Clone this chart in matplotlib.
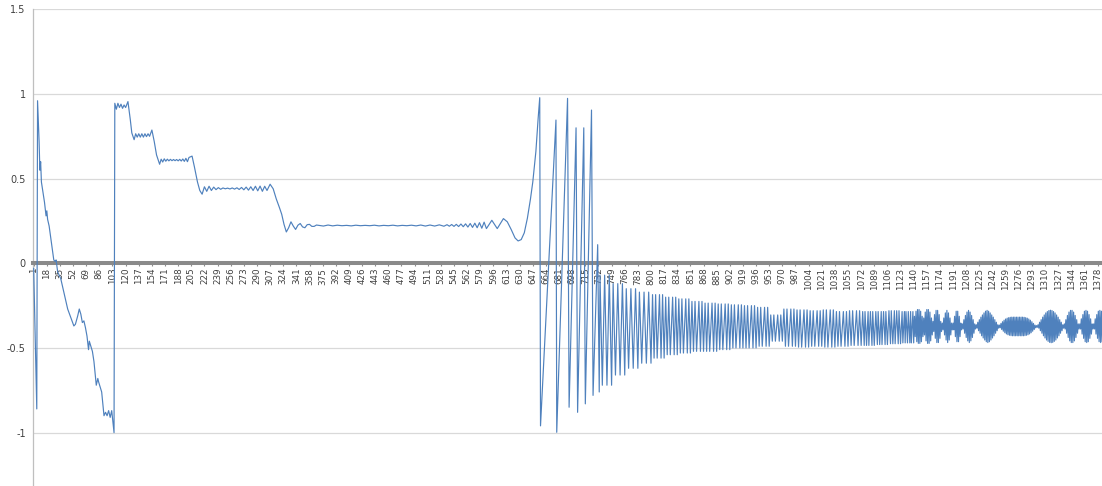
import numpy as np
import matplotlib
matplotlib.use('Agg')
import matplotlib.pyplot as plt

# ---------------------------- data ---------------------------- #
N = 1386
tick_cats = list(range(1, 1379, 17))

# opening swing and slide down to -1
seg_a_i = [1, 5, 6, 8, 9, 10, 11, 13, 15, 16, 17, 18, 19, 21, 24, 27, 29, 30, 32, 36,
           40, 45, 49, 53, 55, 58, 60, 62, 64, 66, 68, 70, 72, 73, 75, 77, 79, 82, 84, 85,
           87, 89, 92, 94, 96, 98, 100, 102, 105, 106]
seg_a_v = [-0.03, -0.86, 0.96, 0.72, 0.55, 0.60, 0.48, 0.42, 0.36, 0.32,
           0.28, 0.31, 0.26, 0.22, 0.12, 0.02, 0.01, 0.02, -0.05, -0.09,
           -0.17, -0.27, -0.32, -0.37, -0.36, -0.31, -0.27, -0.30, -0.35, -0.34,
           -0.38, -0.43, -0.51, -0.46, -0.49, -0.52, -0.58, -0.72, -0.68, -0.70,
           -0.73, -0.76, -0.90, -0.88, -0.90, -0.87, -0.91, -0.87, -1.0, 0.945]

# staircase plateaus
steps_i = ([108, 110, 112, 114, 116, 118, 120, 123, 126, 128, 131]
           + list(range(133, 152, 2)) + [154, 157, 160, 164]
           + list(range(166, 203, 2)) + [206, 209, 213, 216, 219]
           + list(range(222, 304, 3)) + [307, 311, 315, 319, 322, 325, 328]
           + list(range(331, 368, 3)))
steps_v = [0.91, 0.945, 0.92, 0.94, 0.915, 0.935, 0.92, 0.955, 0.85, 0.77, 0.73,
           0.765, 0.745, 0.765, 0.745, 0.765, 0.745, 0.765, 0.748, 0.765, 0.75,
           0.787, 0.72, 0.64, 0.585,
           0.615, 0.598, 0.617, 0.603, 0.615, 0.605, 0.614, 0.606, 0.613, 0.606,
           0.613, 0.605, 0.614, 0.604, 0.616, 0.602, 0.62, 0.6, 0.625,
           0.633, 0.57, 0.48, 0.43, 0.408,
           0.452, 0.425, 0.455, 0.43, 0.45, 0.435, 0.447, 0.437, 0.445, 0.44,
           0.444, 0.439, 0.445, 0.438, 0.446, 0.436, 0.448, 0.434, 0.45, 0.432,
           0.452, 0.43, 0.455, 0.428, 0.456, 0.425, 0.455, 0.43,
           0.467, 0.44, 0.38, 0.33, 0.29, 0.23, 0.185,
           0.21, 0.245, 0.22, 0.2, 0.225, 0.235, 0.215, 0.21, 0.228, 0.23, 0.218, 0.218, 0.226]

# long flat stretch near 0.22
flat_i = list(range(370, 533, 6))
flat_v = [0.224, 0.22, 0.226, 0.221, 0.225, 0.222, 0.224, 0.221, 0.225, 0.222,
          0.224, 0.222, 0.225, 0.221, 0.224, 0.222, 0.225, 0.221, 0.224, 0.222,
          0.225, 0.221, 0.226, 0.22, 0.226, 0.22, 0.227, 0.219]

# growing ripple, dip and rise
swell_i = [536, 539, 542, 545, 548, 551, 554, 557, 560, 563, 566, 569, 572, 575, 578, 581,
           584, 587, 594, 601, 605, 609, 614, 619, 624, 628, 632, 636, 640, 644, 647, 651, 654]
swell_v = [0.228, 0.219, 0.229, 0.218, 0.23, 0.217, 0.232, 0.216, 0.233, 0.214, 0.235,
           0.212, 0.237, 0.21, 0.24, 0.207, 0.243, 0.205, 0.254, 0.205, 0.235, 0.264,
           0.245, 0.2, 0.15, 0.132, 0.14, 0.18, 0.266, 0.38, 0.48, 0.66, 0.86]

# big swings
spike_i = [656, 657, 677, 678, 692, 694, 703, 705, 713, 715, 723, 725, 731, 733]
spike_v = [0.978, -0.96, 0.846, -0.998, 0.974, -0.85, 0.80, -0.88, 0.80, -0.83,
           0.905, -0.78, 0.11, -0.76]

# dense oscillation, one entry per 17-category block starting at 733
blk_hi = [-0.07, -0.12, -0.15, -0.17, -0.185, -0.20, -0.21, -0.225, -0.235, -0.24, -0.245, -0.25,
          -0.26, -0.305, -0.27, -0.275, -0.28, -0.275, -0.285, -0.28, -0.285, -0.285, -0.28, -0.285]
blk_lo = [-0.72, -0.66, -0.62, -0.59, -0.56, -0.54, -0.53, -0.52, -0.52, -0.51, -0.50, -0.50,
          -0.49, -0.46, -0.49, -0.495, -0.49, -0.495, -0.49, -0.485, -0.485, -0.48, -0.475, -0.47]
blk_cycles = [3, 3, 3, 3, 4, 4, 4, 4, 4, 4, 4, 4, 4, 4, 4, 4, 4, 4, 4, 4, 5, 5, 5, 6]

# beat lobes from 1141 on: half-swing per 2-category cycle around beat_center
beat_center = -0.373
lobe_amps = [
    [0.06, 0.09, 0.10, 0.10, 0.09, 0.06],
    [0.05, 0.085, 0.10, 0.10, 0.085, 0.05],
    [0.03, 0.07, 0.095, 0.095, 0.07, 0.03],
    [0.02, 0.05, 0.08, 0.095, 0.08, 0.05, 0.02],
    [0.02, 0.06, 0.09, 0.09, 0.06, 0.02],
    [0.015, 0.04, 0.065, 0.085, 0.095, 0.085, 0.065, 0.04, 0.015],
    [0.01, 0.025, 0.04, 0.055, 0.068, 0.08, 0.09, 0.095, 0.09, 0.08, 0.068, 0.055, 0.04, 0.025, 0.01],
    [0.008, 0.018, 0.028, 0.037, 0.044, 0.049, 0.052, 0.054, 0.055, 0.055, 0.055, 0.055, 0.055,
     0.055, 0.055, 0.055, 0.054, 0.052, 0.049, 0.044, 0.037, 0.028, 0.018, 0.008, 0.005],
    [0.01, 0.025, 0.04, 0.055, 0.068, 0.08, 0.088, 0.094, 0.096, 0.094, 0.088, 0.08, 0.068,
     0.055, 0.04, 0.025, 0.01],
    [0.015, 0.04, 0.065, 0.085, 0.095, 0.095, 0.085, 0.065, 0.04, 0.015],
    [0.015, 0.045, 0.07, 0.09, 0.095, 0.09, 0.07, 0.045, 0.015],
    [0.015, 0.045, 0.07, 0.09, 0.095, 0.09, 0.07, 0.045],
]

# ---------------------------- build series ---------------------------- #
xs = seg_a_i + steps_i + flat_i + swell_i + spike_i
ys = seg_a_v + steps_v + flat_v + swell_v + spike_v
assert len(xs) == len(ys)

for k in range(len(blk_hi)):
    b = 733 + 17 * k
    p = 17.0 / blk_cycles[k]
    for c in range(blk_cycles[k]):
        xs.append(int(round(b + (c + 0.25) * p)))
        ys.append(blk_hi[k])
        xs.append(int(round(b + (c + 0.75) * p)))
        ys.append(blk_lo[k])

pos = 1141
for lobe in lobe_amps:
    for a in lobe:
        if pos + 1 > N:
            break
        xs += [pos, pos + 1]
        ys += [beat_center + a, beat_center - a]
        pos += 2

# ---------------------------- plot ---------------------------- #
W, H = 1102, 486
fig = plt.figure(figsize=(W / 100, H / 100), dpi=100)
ax = fig.add_axes([33.3 / W, (H - 517.3) / H, N * 0.7726 / W, 508 / H])

ax.plot(xs, ys, color='#4f81bd', lw=0.85, zorder=3)

ax.set_xlim(0.5, N + 0.5)
ax.set_ylim(-1.5, 1.5)

yt = [-1, -0.5, 0, 0.5, 1, 1.5]
ax.set_yticks(yt)
ax.set_yticklabels(['%g' % v for v in yt])
ax.yaxis.grid(True, color='#d9d9d9', lw=0.9)
ax.set_axisbelow(True)

ax.set_xticks(tick_cats)
ax.set_xticklabels([str(c) for c in tick_cats])

for s in ['top', 'right']:
    ax.spines[s].set_visible(False)
ax.spines['left'].set_color('#bfbfbf')
ax.spines['left'].set_linewidth(0.9)
ax.spines['bottom'].set_position(('data', 0))
ax.spines['bottom'].set_color('#8a8a8a')
ax.spines['bottom'].set_linewidth(2.9)

ax.tick_params(axis='x', length=2.2, width=0.8, color='#8a8a8a', labelsize=6.3,
               labelrotation=90, pad=1, labelcolor='#404040')
ax.tick_params(axis='y', length=0, labelsize=7, pad=5.5, labelcolor='#404040')

fig.savefig('out.png', dpi=100)
